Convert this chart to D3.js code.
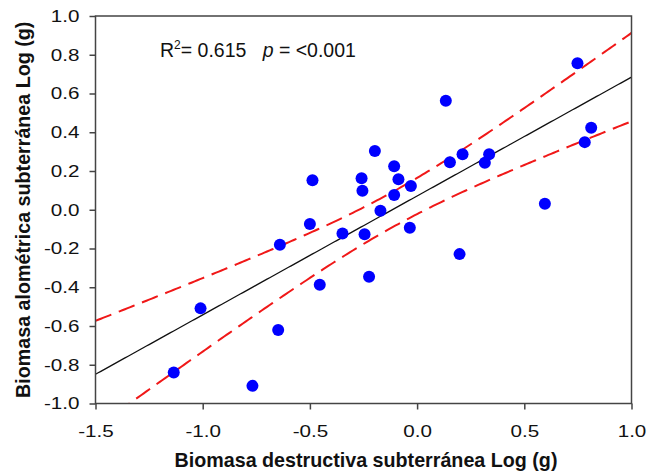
<!DOCTYPE html>
<html>
<head>
<meta charset="utf-8">
<script src="https://cdn.jsdelivr.net/npm/d3@7"></script>
<style>
  body { margin: 0; background: #fff; }
  text { font-family: "Liberation Sans", Arial, sans-serif; }
</style>
</head>
<body>
<div id="chart"></div>
<script>
// destructive (x) vs allometric (y) belowground biomass, log(g)
const destructiva = [-1.135, -1.010, -0.768, -0.648, -0.640, -0.454, -0.488, -0.500, -0.348, -0.259,
  -0.255, -0.245, -0.197, -0.171, -0.107, -0.087, -0.107, -0.029, -0.034, 0.134,
  0.153, 0.212, 0.316, 0.336, 0.198, -0.224, 0.748, 0.812, 0.782, 0.596];
const alometrica = [-0.840, -0.509, -0.909, -0.621, -0.181, -0.387, 0.152, -0.074, -0.123, 0.162,
  0.098, -0.126, 0.303, -0.005, 0.224, 0.158, 0.076, 0.122, -0.093, 0.563,
  0.245, 0.286, 0.242, 0.287, -0.229, -0.346, 0.756, 0.423, 0.349, 0.031];
const xTicks = [-1.5, -1.0, -0.5, 0.0, 0.5, 1.0];
const yTicks = [-1.0, -0.8, -0.6, -0.4, -0.2, 0.0, 0.2, 0.4, 0.6, 0.8, 1.0];
const xDomain = [-1.5, 1.0];
const yDomain = [-1.0, 1.0];
const tCrit = 2.048; // t(0.975, df = 28)

const width = 649, height = 476;
const margin = { top: 16, right: 17.5, bottom: 72.5, left: 95.5 };
const innerW = width - margin.left - margin.right;
const innerH = height - margin.top - margin.bottom;
const stretch = 1.25; // tick labels in the source are a bit wide

const svg = d3.select("#chart").append("svg")
  .attr("width", width).attr("height", height);

const x = d3.scaleLinear().domain(xDomain).range([margin.left, margin.left + innerW]);
const y = d3.scaleLinear().domain(yDomain).range([margin.top + innerH, margin.top]);

// least squares fit + 95% confidence band
const pts = destructiva.map((d, i) => ({ x: d, y: alometrica[i] }));
const n = pts.length;
const mx = d3.mean(pts, d => d.x), my = d3.mean(pts, d => d.y);
const sxx = d3.sum(pts, d => (d.x - mx) ** 2);
const sxy = d3.sum(pts, d => (d.x - mx) * (d.y - my));
const slope = sxy / sxx;
const intercept = my - slope * mx;
const sse = d3.sum(pts, d => (d.y - intercept - slope * d.x) ** 2);
const se = Math.sqrt(sse / (n - 2));

const xs = d3.range(0, 201).map(i => xDomain[0] + (xDomain[1] - xDomain[0]) * i / 200);
const band = xs.map(v => {
  const fit = intercept + slope * v;
  const h = tCrit * se * Math.sqrt(1 / n + (v - mx) ** 2 / sxx);
  return { x: v, fit: fit, lo: fit - h, hi: fit + h };
});

svg.append("defs").append("clipPath").attr("id", "clip")
  .append("rect")
  .attr("x", margin.left).attr("y", margin.top)
  .attr("width", innerW).attr("height", innerH);

const plot = svg.append("g").attr("clip-path", "url(#clip)");

const line = key => d3.line().x(d => x(d.x)).y(d => y(d[key]));

plot.append("path").datum(band)
  .attr("d", line("fit"))
  .attr("fill", "none").attr("stroke", "#111").attr("stroke-width", 1.3);

["hi", "lo"].forEach(k => {
  plot.append("path").datum(band)
    .attr("d", line(k))
    .attr("fill", "none").attr("stroke", "#f01818")
    .attr("stroke-width", 2).attr("stroke-dasharray", "17,8");
});

svg.append("g").selectAll("circle").data(pts).join("circle")
  .attr("cx", d => x(d.x)).attr("cy", d => y(d.y))
  .attr("r", 6).attr("fill", "#0000ff");

// frame
svg.append("rect")
  .attr("x", margin.left).attr("y", margin.top)
  .attr("width", innerW).attr("height", innerH)
  .attr("fill", "none").attr("stroke", "#444").attr("stroke-width", 1.5);

const xAxis = svg.append("g")
  .attr("transform", `translate(0,${margin.top + innerH})`)
  .call(d3.axisBottom(x).tickValues(xTicks).tickFormat(d3.format(".1f")).tickSize(6).tickSizeOuter(0));
const yAxis = svg.append("g")
  .attr("transform", `translate(${margin.left},0)`)
  .call(d3.axisLeft(y).tickValues(yTicks).tickFormat(d3.format(".1f")).tickSize(6).tickSizeOuter(0));

[xAxis, yAxis].forEach(g => {
  g.select(".domain").remove();
  g.selectAll(".tick line").attr("stroke", "#444").attr("stroke-width", 1.5);
  g.selectAll(".tick text").attr("fill", "#111").style("font-size", "16.5px")
    .attr("transform", `scale(${stretch},1)`)
    .text(d => d3.format(".1f")(d).replace("−", "-"));
});
xAxis.selectAll(".tick text").attr("dy", "0").attr("y", 34);
yAxis.selectAll(".tick text").attr("x", -16 / stretch);

// axis titles
svg.append("text")
  .attr("x", 366).attr("y", 467)
  .attr("text-anchor", "middle")
  .style("font-size", "19.7px").style("font-weight", "bold").attr("fill", "#111")
  .text("Biomasa destructiva subterránea Log (g)");

svg.append("text")
  .attr("transform", `translate(30,${margin.top + innerH / 2}) rotate(-90)`)
  .attr("text-anchor", "middle")
  .style("font-size", "19.7px").style("font-weight", "bold").attr("fill", "#111")
  .text("Biomasa alométrica subterránea Log (g)");

// annotation
const note = svg.append("text")
  .attr("x", 160).attr("y", 57.3)
  .attr("xml:space", "preserve").style("white-space", "pre")
  .style("font-size", "19.5px").attr("fill", "#111");
note.append("tspan").text("R");
note.append("tspan").attr("dy", -8).style("font-size", "12px").text("2");
note.append("tspan").attr("dy", 8).text("= 0.615   ");
note.append("tspan").style("font-style", "italic").text("p");
note.append("tspan").text(" = <0.001");
</script>
</body>
</html>
